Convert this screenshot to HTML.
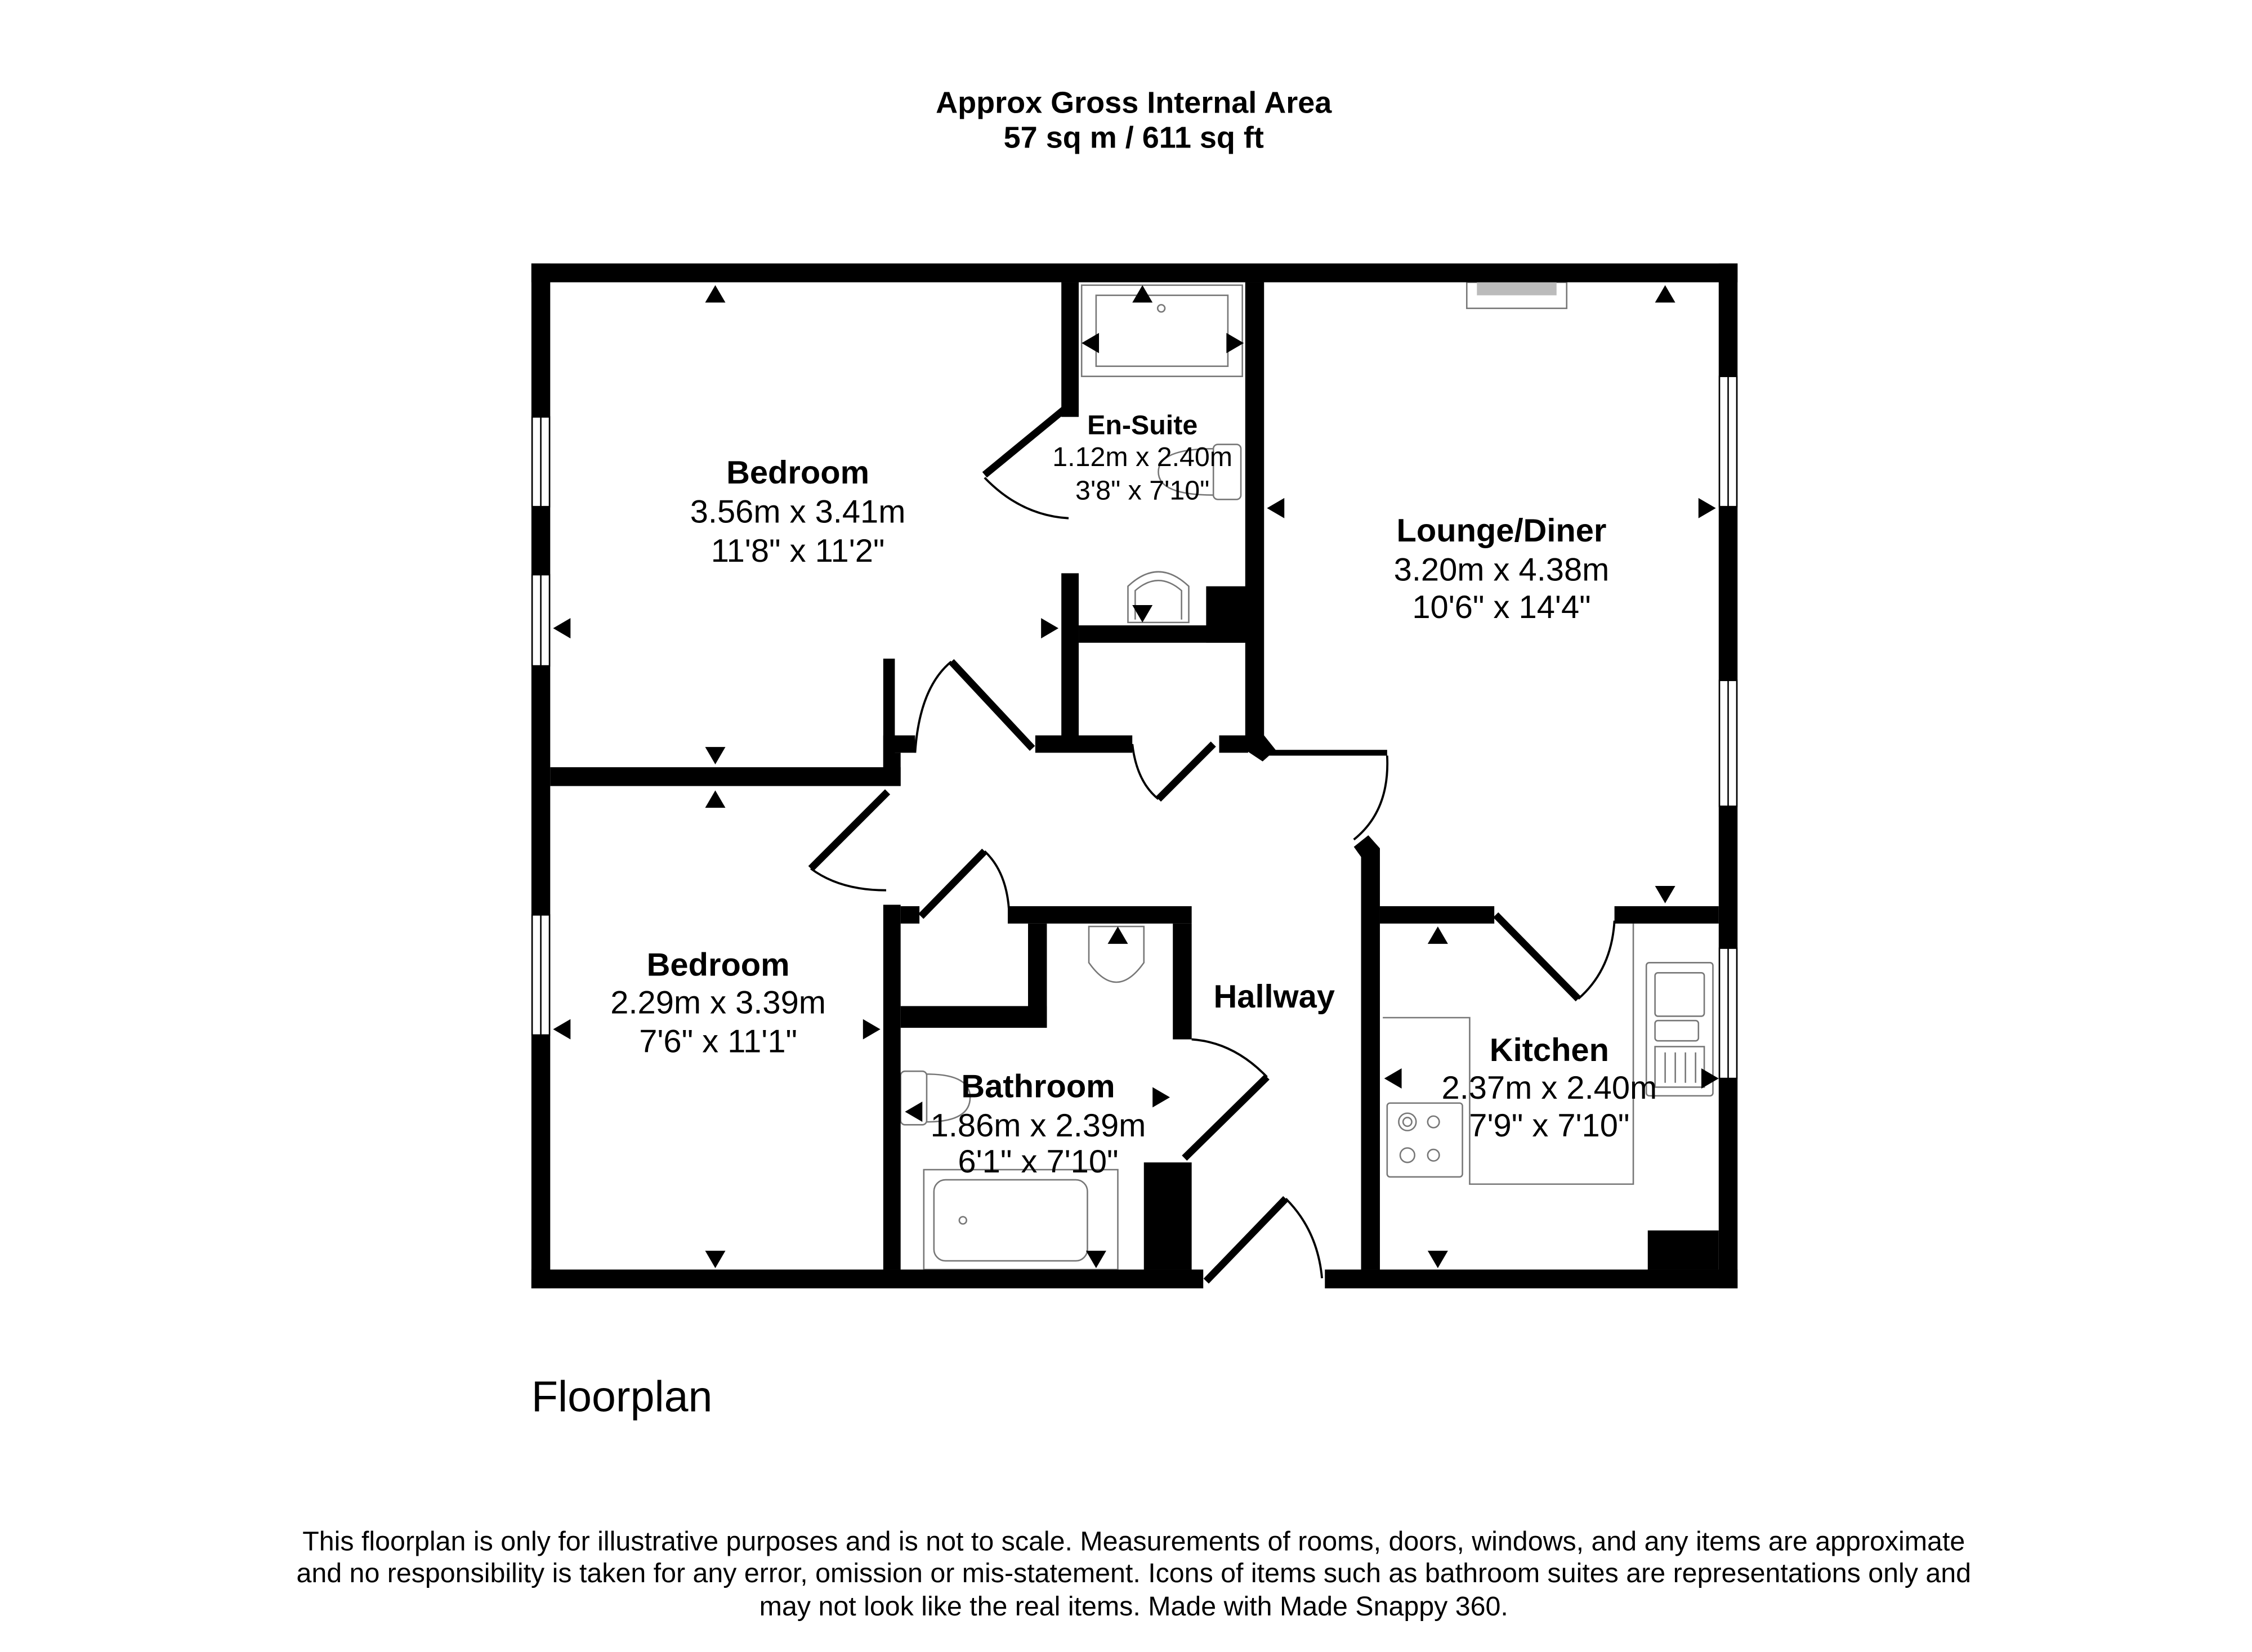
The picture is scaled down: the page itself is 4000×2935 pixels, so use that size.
<!DOCTYPE html>
<html><head><meta charset="utf-8"><style>
html,body{margin:0;padding:0;background:#fff;}
svg{display:block}
text{font-family:"Liberation Sans",Arial,sans-serif;fill:#000}
</style></head><body>
<svg width="4000" height="2935" viewBox="0 0 1555.3 1141.2" xmlns="http://www.w3.org/2000/svg">
<rect width="1555.3" height="1141.2" fill="#fff"/>
<text x="783" y="78" font-size="21" font-weight="bold" text-anchor="middle">Approx Gross Internal Area</text>
<text x="783" y="102" font-size="21" font-weight="bold" text-anchor="middle">57 sq m / 611 sq ft</text>

<!-- fixtures (grey) -->
<g fill="none" stroke="#777" stroke-width="1">
 <rect x="747" y="197" width="111" height="63"/>
 <rect x="757" y="204" width="91" height="49"/>
 <circle cx="802" cy="213" r="2.5"/>
 <rect x="838" y="307" width="19" height="38" rx="3"/>
 <path d="M838 310 Q800 310 800 326 Q800 342 838 342"/>
 <path d="M779 430 L779 405 Q800 385 821 405 L821 430 Z"/>
 <path d="M784 428 L784 408 Q800 394 816 408 L816 428"/>
 <path d="M752 640 L790 640 L790 665 Q771 692 752 665 Z"/>
 <rect x="622" y="740" width="18" height="37" rx="3"/>
 <path d="M640 742 Q670 742 670 758 Q670 775 640 775"/>
 <rect x="638" y="808" width="134" height="69"/>
 <rect x="645" y="815" width="106" height="56" rx="8"/>
 <circle cx="665" cy="843" r="2.5"/>
 <rect x="1013" y="195" width="69" height="18" fill="#fff"/>
 <rect x="1020" y="195" width="55" height="9" fill="#bbb" stroke="none"/>
 <path d="M955 703 L1015 703 L1015 818 L1128 818 L1128 638"/>
 <rect x="958" y="762" width="52" height="51" rx="2"/>
 <circle cx="972" cy="775" r="6"/><circle cx="972" cy="775" r="3"/>
 <circle cx="990" cy="775" r="4"/><circle cx="972" cy="798" r="5"/><circle cx="990" cy="798" r="4"/>
 <rect x="1137" y="665" width="46" height="92" rx="2"/>
 <rect x="1143" y="672" width="34" height="30" rx="2"/>
 <rect x="1143" y="705" width="30" height="14" rx="2"/>
 <rect x="1143" y="723" width="34" height="28"/>
 <path d="M1150 727 V748 M1157 727 V748 M1164 727 V748 M1171 727 V748"/>
</g>

<!-- walls -->
<g fill="#000">
 <rect x="367" y="182" width="833" height="13"/>
 <rect x="367" y="182" width="13" height="708"/>
 <rect x="1187" y="182" width="13" height="708"/>
 <rect x="367" y="877" width="464" height="13"/>
 <rect x="915" y="877" width="285" height="13"/>
 <rect x="733" y="195" width="12" height="93"/>
 <rect x="733" y="396" width="12" height="122"/>
 <rect x="745" y="432" width="117" height="12"/>
 <rect x="833" y="405" width="29" height="39"/>
 <rect x="860" y="195" width="13" height="318"/>
 <polygon points="860,508 873,508 881,518 872,526 860,518"/>
 <rect x="715" y="508" width="67" height="12"/>
 <rect x="842" y="508" width="20" height="12"/>
 <rect x="873" y="518" width="85" height="4"/>
 <polygon points="935,585 945,577 953,586 953,877 940,877 940,592"/>
 <rect x="953" y="626" width="79" height="12"/>
 <rect x="1115" y="626" width="72" height="12"/>
 <rect x="1138" y="850" width="49" height="27"/>
 <rect x="380" y="530" width="242" height="13"/>
 <rect x="610" y="455" width="8" height="75"/>
 <rect x="610" y="508" width="22" height="12"/>
 <rect x="610" y="520" width="12" height="23"/>
 <rect x="610" y="625" width="12" height="252"/>
 <rect x="622" y="626" width="13" height="12"/>
 <rect x="696" y="626" width="127" height="12"/>
 <rect x="710" y="638" width="13" height="72"/>
 <rect x="622" y="695" width="101" height="15"/>
 <rect x="810" y="638" width="13" height="80"/>
 <rect x="790" y="803" width="33" height="74"/>
</g>
<!-- windows -->
<g fill="#fff" stroke="#000" stroke-width="1">
 <rect x="367.5" y="288" width="12" height="62"/><line x1="373.5" y1="288" x2="373.5" y2="350"/>
 <rect x="367.5" y="397" width="12" height="63"/><line x1="373.5" y1="397" x2="373.5" y2="460"/>
 <rect x="367.5" y="632" width="12" height="83"/><line x1="373.5" y1="632" x2="373.5" y2="715"/>
 <rect x="1187.5" y="260" width="12" height="90"/><line x1="1193.5" y1="260" x2="1193.5" y2="350"/>
 <rect x="1187.5" y="470" width="12" height="87"/><line x1="1193.5" y1="470" x2="1193.5" y2="557"/>
 <rect x="1187.5" y="655" width="12" height="90"/><line x1="1193.5" y1="655" x2="1193.5" y2="745"/>
</g>
<!-- doors -->
<g stroke="#000" fill="none">
 <g stroke-width="5">
  <line x1="736" y1="282" x2="680" y2="328"/>
  <line x1="657" y1="457" x2="713" y2="517"/>
  <line x1="800" y1="552" x2="838" y2="514"/>
  <line x1="613" y1="547" x2="560" y2="600"/>
  <line x1="636" y1="633" x2="680" y2="588"/>
  <line x1="875" y1="744" x2="818" y2="800"/>
  <line x1="833" y1="885" x2="888" y2="828"/>
  <line x1="1033" y1="632" x2="1090" y2="690"/>
 </g>
 <g stroke-width="1.5">
  <path d="M680 330 Q705 356 738 358"/>
  <path d="M632 520 Q635 475 657 457"/>
  <path d="M782 514 Q785 540 800 552"/>
  <path d="M958 522 Q960 560 935 580"/>
  <path d="M560 600 Q580 615 612 615"/>
  <path d="M680 588 Q696 603 697 632"/>
  <path d="M823 718 Q852 720 875 744"/>
  <path d="M888 828 Q910 850 913 883"/>
  <path d="M1090 690 Q1113 670 1115 636"/>
 </g>
</g>
<!-- arrows -->
<g fill="#000">
 <polygon points="494,197 487,209 501,209"/>
 <polygon points="494,528 487,516 501,516"/>
 <polygon points="494,546 487,558 501,558"/>
 <polygon points="494,876 487,864 501,864"/>
 <polygon points="382,434 394,427 394,441"/>
 <polygon points="731,434 719,427 719,441"/>
 <polygon points="382,711 394,704 394,718"/>
 <polygon points="608,711 596,704 596,718"/>
 <polygon points="789,197 782,209 796,209"/>
 <polygon points="789,430 782,418 796,418"/>
 <polygon points="747,237 759,230 759,244"/>
 <polygon points="859,237 847,230 847,244"/>
 <polygon points="1150,197 1143,209 1157,209"/>
 <polygon points="1150,624 1143,612 1157,612"/>
 <polygon points="875,351 887,344 887,358"/>
 <polygon points="1185,351 1173,344 1173,358"/>
 <polygon points="772,640 765,652 779,652"/>
 <polygon points="757,876 750,864 764,864"/>
 <polygon points="625,768 637,761 637,775"/>
 <polygon points="808,758 796,751 796,765"/>
 <polygon points="993,640 986,652 1000,652"/>
 <polygon points="993,876 986,864 1000,864"/>
 <polygon points="956,745 968,738 968,752"/>
 <polygon points="1187,745 1175,738 1175,752"/>
</g>
<!-- room labels -->
<g text-anchor="middle" font-size="22.5">
 <text x="551" y="334" font-weight="bold">Bedroom</text>
 <text x="551" y="361">3.56m x 3.41m</text>
 <text x="551" y="388">11'8" x 11'2"</text>
 <text x="1037" y="374" font-weight="bold">Lounge/Diner</text>
 <text x="1037" y="401">3.20m x 4.38m</text>
 <text x="1037" y="427">10'6" x 14'4"</text>
 <text x="496" y="674" font-weight="bold">Bedroom</text>
 <text x="496" y="700">2.29m x 3.39m</text>
 <text x="496" y="727">7'6" x 11'1"</text>
 <text x="880" y="696" font-weight="bold">Hallway</text>
 <text x="717" y="758" font-weight="bold">Bathroom</text>
 <text x="717" y="785">1.86m x 2.39m</text>
 <text x="717" y="810">6'1" x 7'10"</text>
 <text x="1070" y="733" font-weight="bold">Kitchen</text>
 <text x="1070" y="759">2.37m x 2.40m</text>
 <text x="1070" y="785">7'9" x 7'10"</text>
</g>
<g text-anchor="middle" font-size="18.8">
 <text x="789" y="300" font-weight="bold">En-Suite</text>
 <text x="789" y="322">1.12m x 2.40m</text>
 <text x="789" y="345">3'8" x 7'10"</text>
</g>
<text x="367" y="975" font-size="30">Floorplan</text>
<g text-anchor="middle" font-size="18.8">
 <text x="783" y="1071">This floorplan is only for illustrative purposes and is not to scale. Measurements of rooms, doors, windows, and any items are approximate</text>
 <text x="783" y="1093">and no responsibility is taken for any error, omission or mis-statement. Icons of items such as bathroom suites are representations only and</text>
 <text x="783" y="1116">may not look like the real items. Made with Made Snappy 360.</text>
</g>
</svg>
</body></html>
